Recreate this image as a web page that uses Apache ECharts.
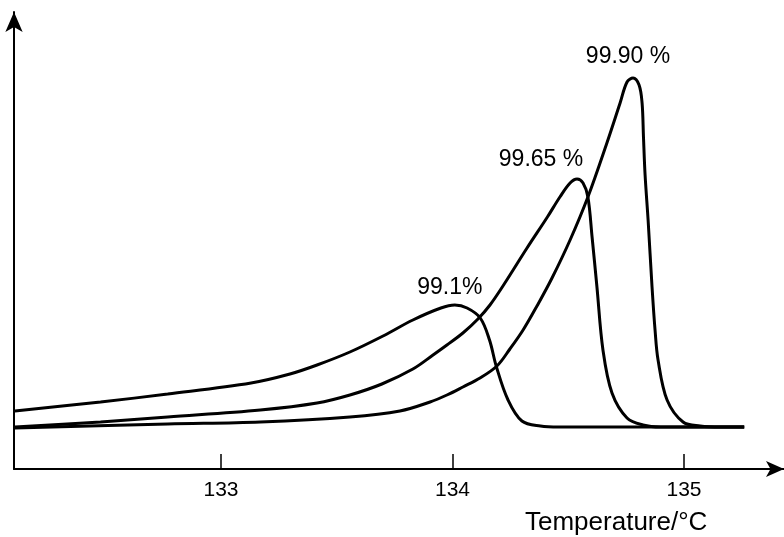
<!DOCTYPE html>
<html>
<head>
<meta charset="utf-8">
<script src="https://cdn.jsdelivr.net/npm/echarts@6/dist/echarts.min.js"></script>
<style>
  html, body { margin: 0; padding: 0; background: #fff; }
  #chart { width: 784px; height: 537px; }
</style>
</head>
<body>
<div id="chart"></div>
<script>
// DSC melting curves for three sample purities (heat flow, arbitrary units)
const temp991 = [132.11, 132.48, 132.77, 133.13, 133.298, 133.415, 133.557, 133.70, 133.829, 133.95, 134.01, 134.063, 134.12, 134.16, 134.19, 134.24, 134.30, 134.38, 134.46, 134.70, 135.26];
const flow991 = [58, 67, 75, 86, 95, 104, 117, 133, 149, 161, 164, 161, 151, 129, 102, 69, 48, 43, 42, 42, 42];

const temp9965 = [132.11, 132.48, 132.77, 133.17, 133.415, 133.557, 133.695, 133.829, 133.916, 133.976, 134.045, 134.11, 134.162, 134.218, 134.322, 134.41, 134.464, 134.508, 134.538, 134.564, 134.585, 134.603, 134.624, 134.65, 134.689, 134.754, 134.823, 134.90, 135.26];
const flow9965 = [42, 47, 52, 59, 66, 74, 85, 100, 114, 124, 136, 150, 164, 183, 221, 252, 272, 286, 290, 286, 272, 232, 182, 119, 76, 51, 44, 42, 42];

const temp9990 = [132.11, 132.77, 133.17, 133.557, 133.773, 133.903, 133.976, 134.045, 134.119, 134.192, 134.248, 134.305, 134.365, 134.43, 134.508, 134.585, 134.667, 134.724, 134.754, 134.78, 134.806, 134.819, 134.825, 134.832, 134.845, 134.862, 134.875, 134.888, 134.927, 134.996, 135.07, 135.16, 135.26];
const flow9990 = [41, 45, 47, 52, 58, 67, 74, 82, 91, 103, 120, 139, 163, 191, 229, 272, 326, 366, 387, 391, 384, 366, 332, 294, 249, 182, 139, 109, 69, 47, 43, 42, 42];

const purityLabels = ['99.1%', '99.65 %', '99.90 %'];
const tickTemps = [133, 134, 135];
const axisTitle = 'Temperature/°C';

const font = '"Liberation Sans", Arial, sans-serif';

function buildSeries(temps, flows, label, labelOffset) {
  let peak = 0;
  flows.forEach((v, i) => { if (v > flows[peak]) peak = i; });
  return {
    type: 'line',
    data: temps.map((t, i) => [t, flows[i]]),
    smooth: 0.35,
    showSymbol: false,
    symbol: 'none',
    lineStyle: { color: '#000', width: 3 },
    emphasis: { disabled: true },
    animation: false,
    markPoint: {
      symbol: 'circle',
      symbolSize: 1,
      itemStyle: { color: 'rgba(0,0,0,0)' },
      label: {
        show: true,
        position: 'inside',
        offset: labelOffset,
        formatter: label,
        color: '#000',
        fontSize: 23,
        fontFamily: font
      },
      data: [{ coord: [temps[peak], flows[peak]] }],
      animation: false
    }
  };
}

const chart = echarts.init(document.getElementById('chart'));
chart.setOption({
  backgroundColor: '#fff',
  animation: false,
  title: {
    text: axisTitle,
    left: 520,
    top: 505,
    textStyle: { fontSize: 26, fontWeight: 'normal', color: '#000', fontFamily: font }
  },
  grid: { left: 14, right: 0, top: 12, bottom: 68 },
  xAxis: {
    type: 'value',
    min: 132.106,
    max: 135.432,
    axisLine: {
      show: true,
      lineStyle: { color: '#000', width: 2 },
      symbol: ['none', 'arrow'],
      symbolSize: [12, 18]
    },
    axisTick: {
      show: true,
      inside: true,
      length: 15,
      customValues: tickTemps,
      lineStyle: { color: '#000', width: 1.5 }
    },
    axisLabel: {
      show: true,
      customValues: tickTemps,
      margin: 11,
      color: '#000',
      fontSize: 21,
      fontFamily: font
    },
    splitLine: { show: false }
  },
  yAxis: {
    type: 'value',
    min: 0,
    max: 457,
    axisLine: {
      show: true,
      lineStyle: { color: '#000', width: 2 },
      symbol: ['none', 'arrow'],
      symbolSize: [13, 20]
    },
    axisTick: { show: false },
    axisLabel: { show: false },
    splitLine: { show: false }
  },
  series: [
    buildSeries(temp991, flow991, purityLabels[0], [-5, -17]),
    buildSeries(temp9965, flow9965, purityLabels[1], [-36, -19]),
    buildSeries(temp9990, flow9990, purityLabels[2], [-5, -21])
  ]
});
</script>
</body>
</html>
